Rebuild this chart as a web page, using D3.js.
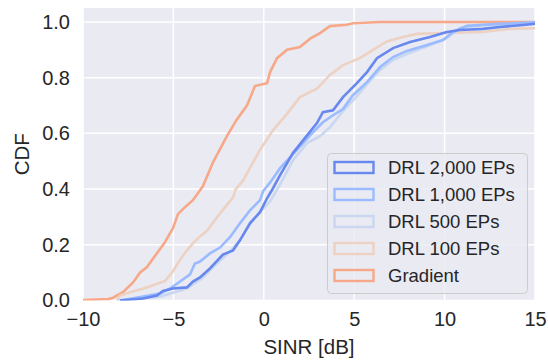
<!DOCTYPE html>
<html>
<head>
<meta charset="utf-8">
<script src="https://cdn.jsdelivr.net/npm/d3@7"></script>
<style>
  html, body { margin: 0; padding: 0; background: #ffffff; }
  svg { display: block; font-family: "Liberation Sans", Arial, sans-serif; }
</style>
</head>
<body>
<svg id="chart" width="548" height="363"></svg>
<script>
// Empirical CDF breakpoints of the SINR per method (SINR in dB, cumulative share)
const seriesNames = ["DRL 2,000 EPs", "DRL 1,000 EPs", "DRL 500 EPs", "DRL 100 EPs", "Gradient"];
const seriesColors = ["#6788ee", "#9abbff", "#c9d7f0", "#edd1c2", "#f7a889"];

const sinr2000 = [-7.95, -6.68, -5.91, -5.58, -5.02, -4.25, -3.92, -3.53, -2.98, -2.26, -1.70, -1.32, -0.76, -0.21, 0.18, 0.51, 0.90, 1.62, 2.17, 2.94, 3.27, 3.83, 4.38, 5.15, 5.71, 6.26, 7.15, 8.09, 9.19, 10.13, 10.85, 12.12, 13.06, 14.34, 15.5];
const cdf2000  = [0, 0.007, 0.018, 0.034, 0.043, 0.047, 0.068, 0.083, 0.115, 0.165, 0.18, 0.216, 0.277, 0.317, 0.367, 0.403, 0.45, 0.53, 0.575, 0.637, 0.676, 0.683, 0.73, 0.78, 0.82, 0.87, 0.906, 0.928, 0.946, 0.964, 0.971, 0.975, 0.982, 0.989, 0.997];

const sinr1000 = [-7.95, -6.68, -5.74, -5.19, -4.63, -4.08, -3.81, -3.53, -2.98, -2.42, -1.87, -1.32, -0.76, -0.21, -0.04, 0.35, 0.90, 1.45, 2.17, 2.72, 3.27, 3.83, 4.38, 4.93, 5.71, 6.43, 7.15, 7.92, 9.03, 9.91, 10.46, 11.24, 13.06, 15.5];
const cdf1000  = [0.0, 0.014, 0.025, 0.043, 0.068, 0.094, 0.133, 0.14, 0.169, 0.19, 0.227, 0.277, 0.324, 0.36, 0.392, 0.424, 0.475, 0.514, 0.565, 0.604, 0.64, 0.665, 0.687, 0.737, 0.784, 0.838, 0.874, 0.896, 0.917, 0.935, 0.964, 0.986, 0.993, 1.0];

const sinr500 = [-8.12, -5.74, -4.25, -3.36, -2.59, -1.87, -1.32, -0.76, -0.21, 0.35, 0.90, 1.62, 2.39, 3.11, 3.66, 4.38, 5.15, 5.87, 6.43, 7.15, 7.92, 8.64, 9.36, 10.13, 10.85, 12.12, 15.5];
const cdf500  = [0, 0.014, 0.043, 0.083, 0.133, 0.176, 0.216, 0.281, 0.317, 0.356, 0.417, 0.504, 0.565, 0.59, 0.622, 0.68, 0.734, 0.788, 0.827, 0.863, 0.885, 0.903, 0.921, 0.942, 0.978, 0.989, 0.993];

const sinr100 = [-8.12, -7.95, -7.40, -6.46, -5.91, -5.46, -5.02, -4.63, -4.25, -3.92, -3.53, -3.14, -2.42, -1.70, -1.55, -1.15, -0.22, 0.50, 1.28, 2.0, 2.94, 3.66, 4.38, 5.32, 6.04, 6.81, 7.70, 8.47, 9.91, 12.12, 13.62, 15.5];
const cdf100  = [0, 0.018, 0.03, 0.047, 0.06, 0.07, 0.105, 0.147, 0.18, 0.205, 0.23, 0.25, 0.313, 0.37, 0.40, 0.43, 0.54, 0.61, 0.67, 0.73, 0.76, 0.81, 0.845, 0.87, 0.90, 0.93, 0.946, 0.957, 0.96, 0.964, 0.975, 0.978];

const sinrGradient = [-10.5, -9.3, -8.6, -8.34, -7.79, -7.23, -6.85, -6.46, -5.91, -5.46, -5.02, -4.75, -4.36, -3.92, -3.37, -2.81, -2.04, -1.49, -0.93, -0.49, 0.18, 0.35, 0.73, 1.29, 2.0, 2.56, 3.11, 3.66, 4.60, 4.93, 6.43, 15.5];
const cdfGradient  = [0, 0.003, 0.005, 0.01, 0.03, 0.065, 0.10, 0.12, 0.17, 0.21, 0.26, 0.31, 0.335, 0.36, 0.41, 0.496, 0.59, 0.65, 0.70, 0.77, 0.78, 0.82, 0.87, 0.90, 0.91, 0.94, 0.96, 0.985, 0.99, 0.995, 1.0, 1.0];

const xTicks = [-10, -5, 0, 5, 10, 15];
const yTicks = [0, 0.2, 0.4, 0.6, 0.8, 1.0];
const xLabel = "SINR [dB]";
const yLabel = "CDF";

const seriesX = [sinr2000, sinr1000, sinr500, sinr100, sinrGradient];
const seriesY = [cdf2000, cdf1000, cdf500, cdf100, cdfGradient];

// Layout
const plot = { left: 83, right: 535, top: 8, bottom: 300.5 };
const svg = d3.select("#chart");

const x = d3.scaleLinear().domain([-10, 15]).range([plot.left, plot.right]);
const y = d3.scaleLinear().domain([0, 1.05]).range([plot.bottom, plot.top]);

// Panel background
svg.append("rect")
  .attr("x", plot.left).attr("y", plot.top)
  .attr("width", plot.right - plot.left).attr("height", plot.bottom - plot.top)
  .attr("fill", "#eaeaf2");

// White grid
const grid = svg.append("g").attr("stroke", "#ffffff").attr("stroke-width", 1.5);
grid.selectAll(".gx").data(xTicks).join("line")
  .attr("x1", d => x(d)).attr("x2", d => x(d))
  .attr("y1", plot.top).attr("y2", plot.bottom);
grid.selectAll(".gy").data(yTicks).join("line")
  .attr("x1", plot.left).attr("x2", plot.right)
  .attr("y1", d => y(d)).attr("y2", d => y(d));

// Axes (labels only, no spines or tick marks)
const fmtX = d => d < 0 ? "\u2212" + Math.abs(d) : String(d);
const xAxis = svg.append("g")
  .attr("transform", `translate(0,${plot.bottom})`)
  .call(d3.axisBottom(x).tickValues(xTicks).tickFormat(fmtX).tickSize(0).tickPadding(11));
const yAxis = svg.append("g")
  .attr("transform", `translate(${plot.left},0)`)
  .call(d3.axisLeft(y).tickValues(yTicks).tickFormat(d3.format(".1f")).tickSize(0).tickPadding(13));
[xAxis, yAxis].forEach(a => {
  a.select(".domain").remove();
  a.selectAll("text")
    .attr("fill", "#262626")
    .style("font-family", '"Liberation Sans", Arial, sans-serif')
    .style("font-size", "20px");
});

svg.append("text")
  .attr("x", (plot.left + plot.right) / 2).attr("y", 354)
  .attr("text-anchor", "middle").attr("fill", "#262626")
  .style("font-size", "20.5px").text(xLabel);
svg.append("text")
  .attr("transform", `translate(29,${(plot.top + plot.bottom) / 2}) rotate(-90)`)
  .attr("text-anchor", "middle").attr("fill", "#262626")
  .style("font-size", "20.5px").text(yLabel);

// CDF curves
svg.append("clipPath").attr("id", "plotClip")
  .append("rect")
  .attr("x", plot.left).attr("y", plot.top - 2)
  .attr("width", plot.right - plot.left).attr("height", plot.bottom - plot.top + 2);

const line = d3.line().x(d => x(d[0])).y(d => y(d[1]));
const curves = svg.append("g").attr("clip-path", "url(#plotClip)");
// Drawn back to front so the longest-trained agent ends up on top
for (let i = seriesNames.length - 1; i >= 0; i--) {
  const pts = d3.zip(seriesX[i], seriesY[i]);
  curves.append("path")
    .datum(pts)
    .attr("d", line)
    .attr("fill", "none")
    .attr("stroke", seriesColors[i])
    .attr("stroke-width", 2.6)
    .attr("stroke-linejoin", "miter");
}

// Legend
const lg = svg.append("g").attr("transform", "translate(327,153)");
lg.append("rect")
  .attr("x", 0.5).attr("y", 0.5).attr("width", 200).attr("height", 140)
  .attr("rx", 4).attr("fill", "#eaeaf2").attr("fill-opacity", 0.8)
  .attr("stroke", "#cccccc").attr("stroke-width", 1);
seriesNames.forEach((name, i) => {
  const cy = 14.5 + i * 27;
  lg.append("rect")
    .attr("x", 7.5).attr("y", cy - 5.5).attr("width", 39).attr("height", 11)
    .attr("fill", "none").attr("stroke", seriesColors[i]).attr("stroke-width", 2.4);
  lg.append("text")
    .attr("x", 61).attr("y", cy).attr("dy", "0.35em")
    .attr("fill", "#262626").style("font-size", "18.5px").text(name);
});
</script>
</body>
</html>
